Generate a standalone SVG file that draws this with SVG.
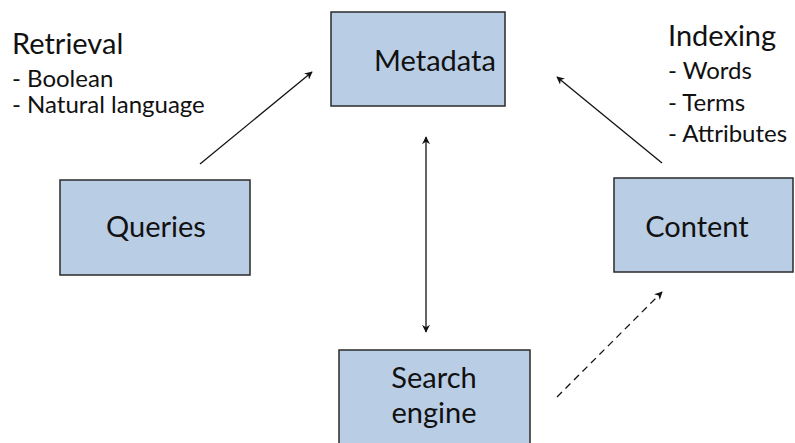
<svg xmlns="http://www.w3.org/2000/svg" width="795" height="443" viewBox="0 0 795 443">
  <style>
    .box { fill: #B9CDE5; stroke: #2a2a2a; stroke-width: 1.5; }
    .label { font-family: Lato, "Open Sans", sans-serif; font-size: 29px; fill: #111; text-anchor: middle; }
    .head { font-family: Lato, "Open Sans", sans-serif; font-size: 29px; fill: #111; }
    .item { font-family: Lato, "Open Sans", sans-serif; font-size: 24px; fill: #111; }
    .conn { stroke: #111; stroke-width: 1.3; fill: none; }
    .dash { stroke-dasharray: 7 5; }
  </style>
  <defs>
    <marker id="arrow" viewBox="0 0 10 10" refX="9" refY="5" markerWidth="8" markerHeight="8" markerUnits="userSpaceOnUse" orient="auto-start-reverse">
      <path d="M0,0 L10,5 L0,10 L3,5 Z" fill="#111"/>
    </marker>
  </defs>

  <rect width="795" height="443" fill="#fff"/>

  <!-- side notes -->
  <g id="retrieval-note">
    <text class="head" x="12" y="54">Retrieval</text>
    <text class="item" x="12" y="87">- Boolean</text>
    <text class="item" x="12" y="113">- Natural language</text>
  </g>
  <g id="indexing-note">
    <text class="head" x="668" y="46">Indexing</text>
    <text class="item" x="668" y="79">- Words</text>
    <text class="item" x="668" y="111">- Terms</text>
    <text class="item" x="668" y="142">- Attributes</text>
  </g>

  <!-- nodes -->
  <g id="metadata">
    <rect class="box" x="331" y="12" width="174" height="94"/>
    <text class="label" x="435" y="71">Metadata</text>
  </g>
  <g id="queries">
    <rect class="box" x="60" y="180" width="190" height="95"/>
    <text class="label" x="156" y="237">Queries</text>
  </g>
  <g id="content">
    <rect class="box" x="614" y="178" width="179" height="94"/>
    <text class="label" x="697" y="237">Content</text>
  </g>
  <g id="search-engine">
    <rect class="box" x="339" y="350" width="191" height="100"/>
    <text class="label" x="434" y="388">Search</text>
    <text class="label" x="434" y="423">engine</text>
  </g>

  <!-- connectors -->
  <g id="connectors">
    <line class="conn" x1="200" y1="164" x2="312" y2="72" marker-end="url(#arrow)"/>
    <line class="conn" x1="662" y1="163" x2="557" y2="77" marker-end="url(#arrow)"/>
    <line class="conn" x1="426" y1="137" x2="426" y2="332" marker-start="url(#arrow)" marker-end="url(#arrow)"/>
    <line class="conn dash" x1="557" y1="397" x2="662" y2="292" marker-end="url(#arrow)"/>
  </g>
</svg>
